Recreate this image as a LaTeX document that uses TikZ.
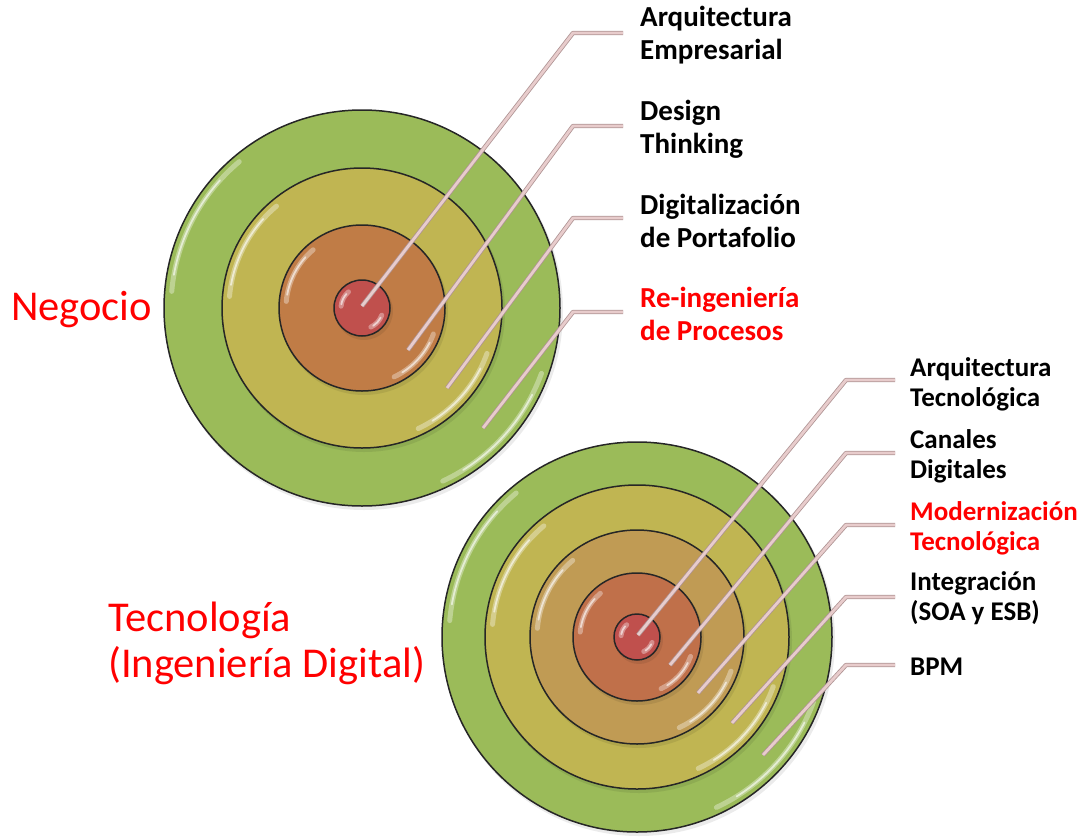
\documentclass[tikz,border=0pt]{standalone}
\usepackage{fontspec}
\setmainfont{Carlito}
\definecolor{cgreen}{RGB}{155,187,89}
\definecolor{cyellow}{RGB}{192,181,82}
\definecolor{ctan}{RGB}{192,155,84}
\definecolor{corange}{RGB}{192,124,70}
\definecolor{corange2}{RGB}{192,112,74}
\definecolor{cred}{RGB}{192,80,77}
\definecolor{lpink}{RGB}{232,204,204}
\definecolor{ledge}{RGB}{175,148,148}
\definecolor{tred}{RGB}{255,0,0}
\tikzset{
  ring/.style={draw=black!85, line width=1.5pt},
  gloss/.style={draw=white, opacity=0.35, line width=5pt, line cap=round},
  glosscore/.style={draw=white, opacity=0.6, line width=1.8pt, line cap=round},
  leader/.style={draw=ledge, line width=0.8pt, double=lpink, double distance=2.8pt, line join=round},
  labt/.style={font=\fontsize{29}{33}\selectfont\bfseries, align=left, inner sep=0pt, anchor=west},
  labb/.style={font=\fontsize{27}{30}\selectfont\bfseries, align=left, inner sep=0pt, anchor=west},
  big/.style={font=\fontsize{42.5}{46}\selectfont, text=tred, align=left, inner sep=0pt, anchor=west}
}
\newcommand{\disc}[4]{% center, radius, color, name
  \fill[black, opacity=0.08] ([xshift=2pt,yshift=-3pt]#1) circle[radius=#2+1];
  \fill[#3] (#1) circle[radius=#2];
  \draw[ring] (#1) circle[radius=#2];
  \draw[gloss] (#1) ++(185:#2-7) arc[start angle=185, end angle=230, radius=#2-7];
  \draw[gloss] (#1) ++(20:#2-7) arc[start angle=20, end angle=65, radius=#2-7];
  \draw[glosscore] (#1) ++(190:#2-7) arc[start angle=190, end angle=222, radius=#2-7];
  \draw[glosscore] (#1) ++(27:#2-7) arc[start angle=27, end angle=58, radius=#2-7];
}
\begin{document}
\begin{tikzpicture}[x=1pt,y=-1pt]
\useasboundingbox (0,0) rectangle (1086,838);
% bottom target
\coordinate (cb) at (637,637);
\disc{cb}{195}{cgreen}{b1}
\disc{cb}{152}{cyellow}{b2}
\disc{cb}{107}{ctan}{b3}
\disc{cb}{64}{corange2}{b4}
\disc{cb}{23}{cred}{b5}
% top target
\coordinate (ct) at (362,308);
\disc{ct}{198}{cgreen}{t1}
\disc{ct}{140}{cyellow}{t2}
\disc{ct}{83}{corange}{t3}
\disc{ct}{28}{cred}{t4}
% top labels
\node[labt] (ta) at (640,35) {Arquitectura\\Empresarial};
\node[labt] (tb) at (640,129) {Design\\Thinking};
\node[labt] (tc) at (640,221) {Digitalización\\de Portafolio};
\node[labt, text=tred] (td) at (640,314) {Re-ingeniería\\de Procesos};
\coordinate (sa) at (362,306); \coordinate (ea) at (573,33);
\coordinate (sb) at (408,350); \coordinate (eb) at (573,126);
\coordinate (sc) at (447,388); \coordinate (ec) at (573,218);
\coordinate (sd) at (483,428); \coordinate (ed) at (573,312);
\draw[leader] (sa) -- (ea) -- ([xshift=-17pt]ea -| ta.west);
\draw[leader] (sb) -- (eb) -- ([xshift=-17pt]eb -| tb.west);
\draw[leader] (sc) -- (ec) -- ([xshift=-17pt]ec -| tc.west);
\draw[leader] (sd) -- (ed) -- ([xshift=-17pt]ed -| td.west);
% bottom labels
\node[labb] (ba) at (910,384) {Arquitectura\\Tecnológica};
\node[labb] (bb) at (910,456) {Canales\\Digitales};
\node[labb, text=tred] (bc) at (910,528) {Modernización\\Tecnológica};
\node[labb] (bd) at (910,598) {Integración\\(SOA y ESB)};
\node[labb] (be) at (910,667) {BPM};
\coordinate (s1) at (638,635); \coordinate (e1) at (846,380);
\coordinate (s2) at (670,665); \coordinate (e2) at (846,453);
\coordinate (s3) at (698,693); \coordinate (e3) at (846,525);
\coordinate (s4) at (732,723); \coordinate (e4) at (846,597);
\coordinate (s5) at (763,755); \coordinate (e5) at (846,665);
\draw[leader] (s1) -- (e1) -- ([xshift=-15pt]e1 -| ba.west);
\draw[leader] (s2) -- (e2) -- ([xshift=-15pt]e2 -| bb.west);
\draw[leader] (s3) -- (e3) -- ([xshift=-15pt]e3 -| bc.west);
\draw[leader] (s4) -- (e4) -- ([xshift=-15pt]e4 -| bd.west);
\draw[leader] (s5) -- (e5) -- ([xshift=-15pt]e5 -| be.west);
% left labels
\node[big] (neg) at (11,310) {Negocio};
\node[big] (tec) at (108,643) {Tecnología\\(Ingeniería Digital)};
\end{tikzpicture}
\end{document}
